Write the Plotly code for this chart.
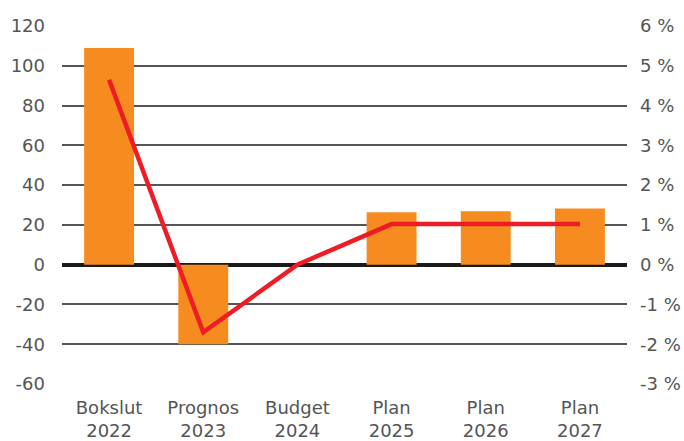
import plotly.graph_objects as go

categories = ["Bokslut<br>2022", "Prognos<br>2023", "Budget<br>2024", "Plan<br>2025", "Plan<br>2026", "Plan<br>2027"]
result_mkr = [109, -40, 0, 26.3, 26.8, 28.3]
result_pct = [4.65, -1.7, 0.0, 1.02, 1.02, 1.02]
left_ticks = [-60, -40, -20, 0, 20, 40, 60, 80, 100, 120]
right_ticks = [-3, -2, -1, 0, 1, 2, 3, 4, 5, 6]

FONT = dict(family="DejaVu Sans, sans-serif", size=18, color="#555555", weight=400)

fig = go.Figure()
fig.add_trace(go.Bar(x=categories, y=result_mkr, marker=dict(color="#f68b1f", line=dict(width=0)),
                     width=0.53, yaxis="y", showlegend=False, hoverinfo="y"))
fig.add_trace(go.Scatter(x=categories, y=result_pct, mode="lines", line=dict(color="#ee1c24", width=4.5),
                         yaxis="y2", showlegend=False))

fig.update_layout(
    width=684, height=441,
    margin=dict(l=62, r=57, t=26, b=57),
    paper_bgcolor="white", plot_bgcolor="white",
    font=FONT,
    xaxis=dict(showgrid=False, showline=False, ticks="", tickfont=FONT, ticklabelstandoff=11,
               automargin=False),
    yaxis=dict(range=[-60, 120], tickvals=left_ticks, ticktext=[str(v) for v in left_ticks],
               showgrid=True, gridcolor="#555555", gridwidth=1.6,
               zeroline=True, zerolinecolor="#1a1a1a", zerolinewidth=4, showline=False, ticks="",
               tickfont=FONT, ticklabelstandoff=16, automargin=False),
    yaxis2=dict(range=[-3, 6], tickvals=right_ticks, ticktext=[f"{v} %" for v in right_ticks],
                overlaying="y", side="right", showgrid=False, zeroline=False, showline=False, ticks="",
                tickfont=FONT, ticklabelstandoff=12, automargin=False),
    bargap=0.47,
)
fig.write_html("out.html", config={"displayModeBar": False},
               post_script="document.body.style.margin='0';")
